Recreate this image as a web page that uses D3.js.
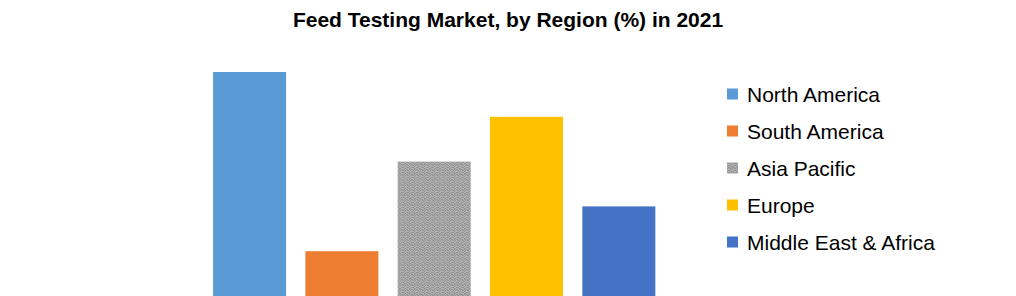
<!DOCTYPE html>
<html>
<head>
<meta charset="utf-8">
<script src="https://cdn.jsdelivr.net/npm/d3@7"></script>
<style>
  body { margin: 0; background: #fff; }
  svg { display: block; font-family: "Liberation Sans", Arial, sans-serif; }
</style>
</head>
<body>
<svg id="chart" width="1016" height="296"></svg>
<script>
// chart data
const regions = ["North America", "South America", "Asia Pacific", "Europe", "Middle East & Africa"];
const shares = [35, 7, 21, 28, 14];
const colors = ["#5b9bd5", "#ed7d31", "url(#apDots)", "#ffc000", "#4472c4"];
const title = "Feed Testing Market, by Region (%) in 2021";

const svg = d3.select("#chart");

// speckled grey fill used by Asia Pacific (dark pixels in a 5x5 tile)
const speckle = [[0, 0], [2, 0], [4, 1], [1, 2], [3, 2], [0, 3], [2, 4], [4, 3], [1, 4], [3, 0], [2, 2], [4, 4]];
const pat = svg.append("defs").append("pattern")
    .attr("id", "apDots")
    .attr("width", 5).attr("height", 5)
    .attr("patternUnits", "userSpaceOnUse");
pat.append("rect").attr("width", 5).attr("height", 5).attr("fill", "#b0b0b0");
pat.selectAll("rect.dot")
    .data(speckle)
    .join("rect")
    .attr("class", "dot")
    .attr("x", d => d[0]).attr("y", d => d[1])
    .attr("width", 1).attr("height", 1)
    .attr("fill", "#969696");

const x = d3.scaleBand().domain(regions).range([203.4, 665]).paddingInner(0.209).paddingOuter(0.1045);
const y = d3.scaleLinear().domain([0, 35]).range([296, 72]);

svg.append("text")
    .attr("x", 508).attr("y", 27)
    .attr("text-anchor", "middle")
    .attr("font-size", 21).attr("font-weight", "bold")
    .attr("fill", "#000")
    .text(title);

svg.append("g")
    .selectAll("rect")
    .data(regions)
    .join("rect")
    .attr("x", d => x(d))
    .attr("width", x.bandwidth())
    .attr("y", (d, i) => y(shares[i]))
    .attr("height", (d, i) => y(0) - y(shares[i]))
    .attr("fill", (d, i) => colors[i]);

// legend
const legend = d3.scalePoint().domain(regions).range([94, 242]);
const item = svg.append("g").selectAll("g")
    .data(regions)
    .join("g")
    .attr("transform", d => `translate(727,${legend(d)})`);

item.append("rect")
    .attr("x", 0).attr("y", -5.5)
    .attr("width", 11).attr("height", 11)
    .attr("fill", (d, i) => colors[i]);

item.append("text")
    .attr("x", 20).attr("y", 7.5)
    .attr("font-size", 21)
    .attr("fill", "#000")
    .text(d => d);
</script>
</body>
</html>
